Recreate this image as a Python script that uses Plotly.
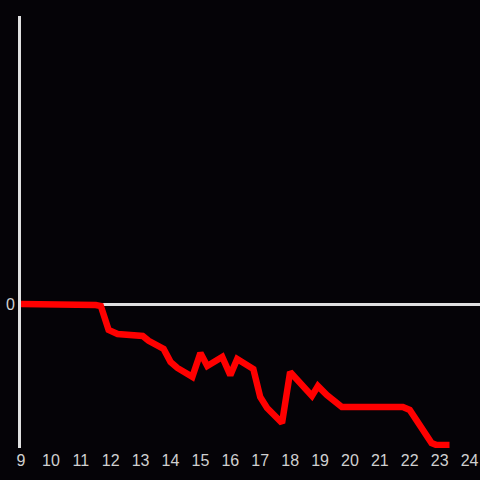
import plotly.graph_objects as go

hours = [9, 11.27, 11.5, 11.67, 11.93, 12.23, 12.9, 13.07, 13.27, 13.77, 14.0, 14.23, 14.73,
         15.0, 15.23, 15.73, 16.0, 16.23, 16.77, 17.0, 17.23, 17.73, 18.0, 18.73, 18.93,
         19.23, 19.73, 21.77, 22.0, 22.73, 22.9, 23.33]
values = [0, 0, -0.35, -0.7, -9.0, -10.4, -11.1, -11.1, -12.8, -15.6, -20.1, -22.2, -25.3,
          -17.0, -21.5, -18.4, -24.7, -19.1, -22.6, -32.3, -36.1, -41.3, -23.6, -31.9, -28.5,
          -31.6, -35.8, -35.8, -36.8, -48.3, -49.0, -49.0]
x_ticks = list(range(9, 25))

fig = go.Figure(go.Scatter(x=hours, y=values, mode="lines",
                           line=dict(color="#ff0000", width=6.5), hoverinfo="skip"))

fig.update_layout(
    width=480, height=480,
    margin=dict(l=21, r=0, t=16, b=32),
    paper_bgcolor="#050307", plot_bgcolor="#050307",
    showlegend=False,
    font=dict(family="Liberation Sans, Arial, sans-serif", color="#d0d0d0", size=16),
)
fig.update_xaxes(range=[9, 24.35], tickvals=x_ticks, ticktext=[str(t) for t in x_ticks],
                 showgrid=False, zeroline=False, showline=False, ticks="",
                 ticklabelstandoff=1,
                 tickfont=dict(size=16, color="#d0d0d0"))
fig.update_yaxes(range=[-50, 100], tickvals=[0], ticktext=["0"], showgrid=False,
                 zeroline=True, zerolinecolor="#e0e0e0", zerolinewidth=3,
                 showline=True, linecolor="#e0e0e0", linewidth=3, ticks="",
                 ticklabelstandoff=0,
                 tickfont=dict(size=16, color="#d0d0d0"))

fig.write_html("out.html", config={"displayModeBar": False},
               post_script="document.body.style.margin='0';document.body.style.background='#050307';")
